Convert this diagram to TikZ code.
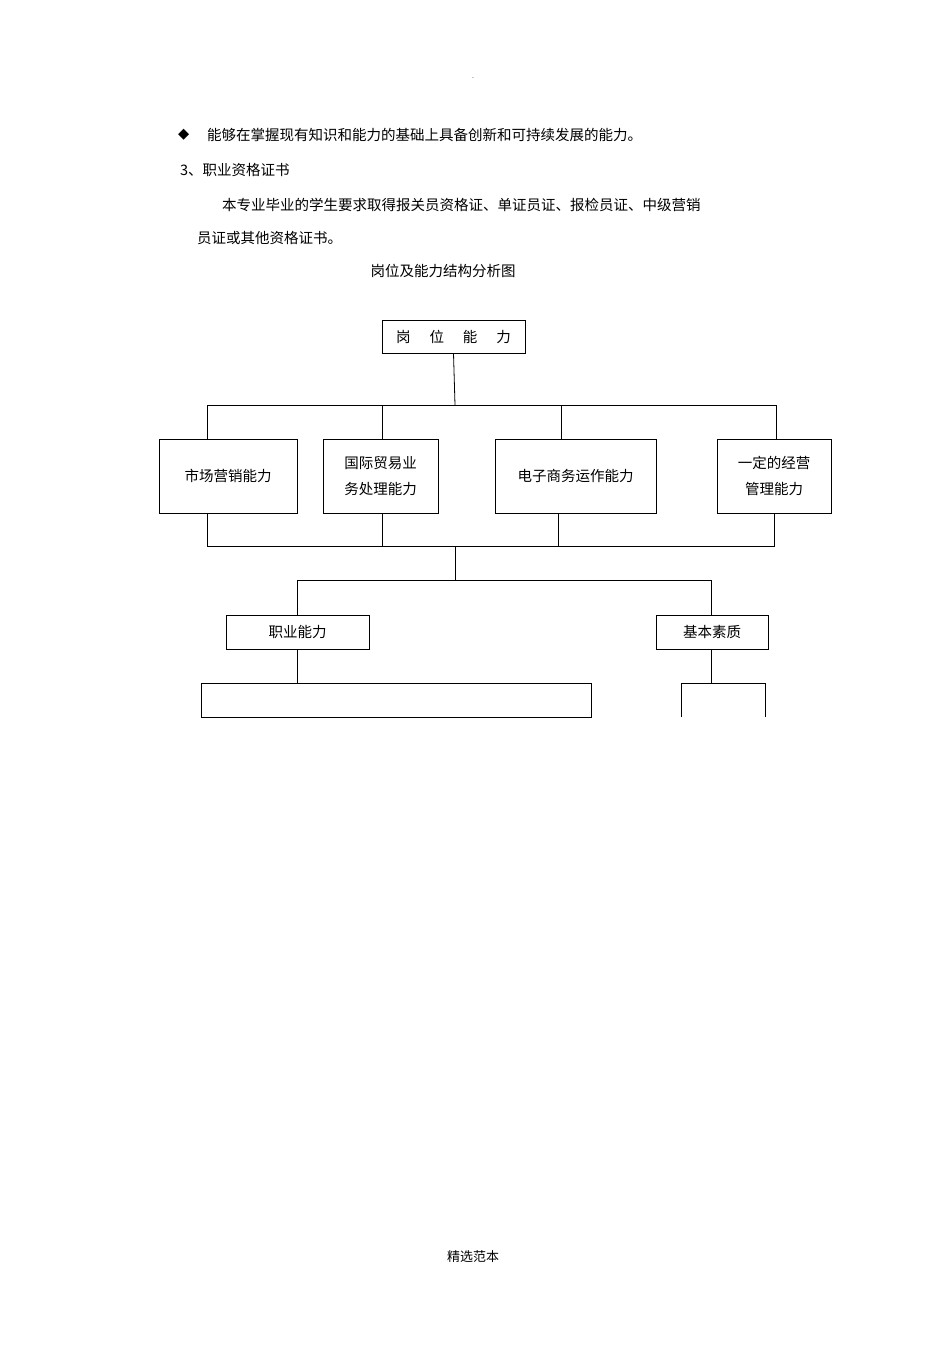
\documentclass[tikz,border=0pt]{standalone}
\usepackage{fontspec}
\setmainfont{Noto Sans CJK SC}
\newfontfamily\symfont{DejaVu Sans}
\begin{document}
\begin{tikzpicture}[x=1pt,y=-1pt,
  txt/.style={inner sep=0pt,anchor=west,font=\fontsize{14.5}{16}\selectfont},
  bx/.style={draw,line width=0.8pt,inner sep=0pt,font=\fontsize{14.5}{16}\selectfont,align=center},
  ln/.style={line width=0.8pt}]
\useasboundingbox (0,0) rectangle (950,1345);
\node[inner sep=0pt,font=\scriptsize] (dot) at (473,78) {.};
\node[txt] (dia) at (178,135) {\symfont ◆};
\node[txt] (l1) at (207,135) {能够在掌握现有知识和能力的基础上具备创新和可持续发展的能力。};
\node[txt] (l2) at (180,170) {3、职业资格证书};
\node[txt] (l3) at (222,205) {本专业毕业的学生要求取得报关员资格证、单证员证、报检员证、中级营销};
\node[txt] (l4) at (197,238) {员证或其他资格证书。};
\node[txt,anchor=center] (title) at (443,271) {岗位及能力结构分析图};
\node[bx,minimum width=143,minimum height=33] (top) at (453.5,336.5) {岗\hspace{1.3em}位\hspace{1.3em}能\hspace{1.3em}力};
\node[bx,minimum width=138,minimum height=74] (b1) at (228,476) {市场营销能力};
\node[bx,minimum width=115,minimum height=74] (b2) at (380.5,476) {国际贸易业\\[0.75em]务处理能力};
\node[bx,minimum width=161,minimum height=74] (b3) at (575.5,476) {电子商务运作能力};
\node[bx,minimum width=114,minimum height=74] (b4) at (774,476) {一定的经营\\[0.75em]管理能力};
\node[bx,minimum width=143,minimum height=34] (z) at (297.5,632) {职业能力};
\node[bx,minimum width=112,minimum height=34] (j) at (712,632) {基本素质};
\node[bx,minimum width=390,minimum height=34] (zb) at (396,700) {};
\coordinate (h1) at (455,405);
\coordinate (h2) at (455,546);
\coordinate (h3) at (455,580);
\draw[ln] (top.south) -- (h1);
\draw[ln] (207,439) |- (776,405) -- (776,439);
\draw[ln] (382,405) -- (382,439);
\draw[ln] (561,405) -- (561,439);
\draw[ln] (207,513) |- (774,546) -- (774,513);
\draw[ln] (382,513) -- (382,546);
\draw[ln] (558,513) -- (558,546);
\draw[ln] (h2) -- (h3);
\draw[ln] (z.north) |- (711,580) -- (711,615);
\draw[ln] (z.south) -- (zb.north -| z.south);
\draw[ln] (711,649) -- (711,683);
\draw[ln] (681,717) |- (765,683) -- (765,717);
\node[txt,anchor=center,font=\fontsize{13}{15}\selectfont] (foot) at (473,1257) {精选范本};
\end{tikzpicture}
\end{document}
